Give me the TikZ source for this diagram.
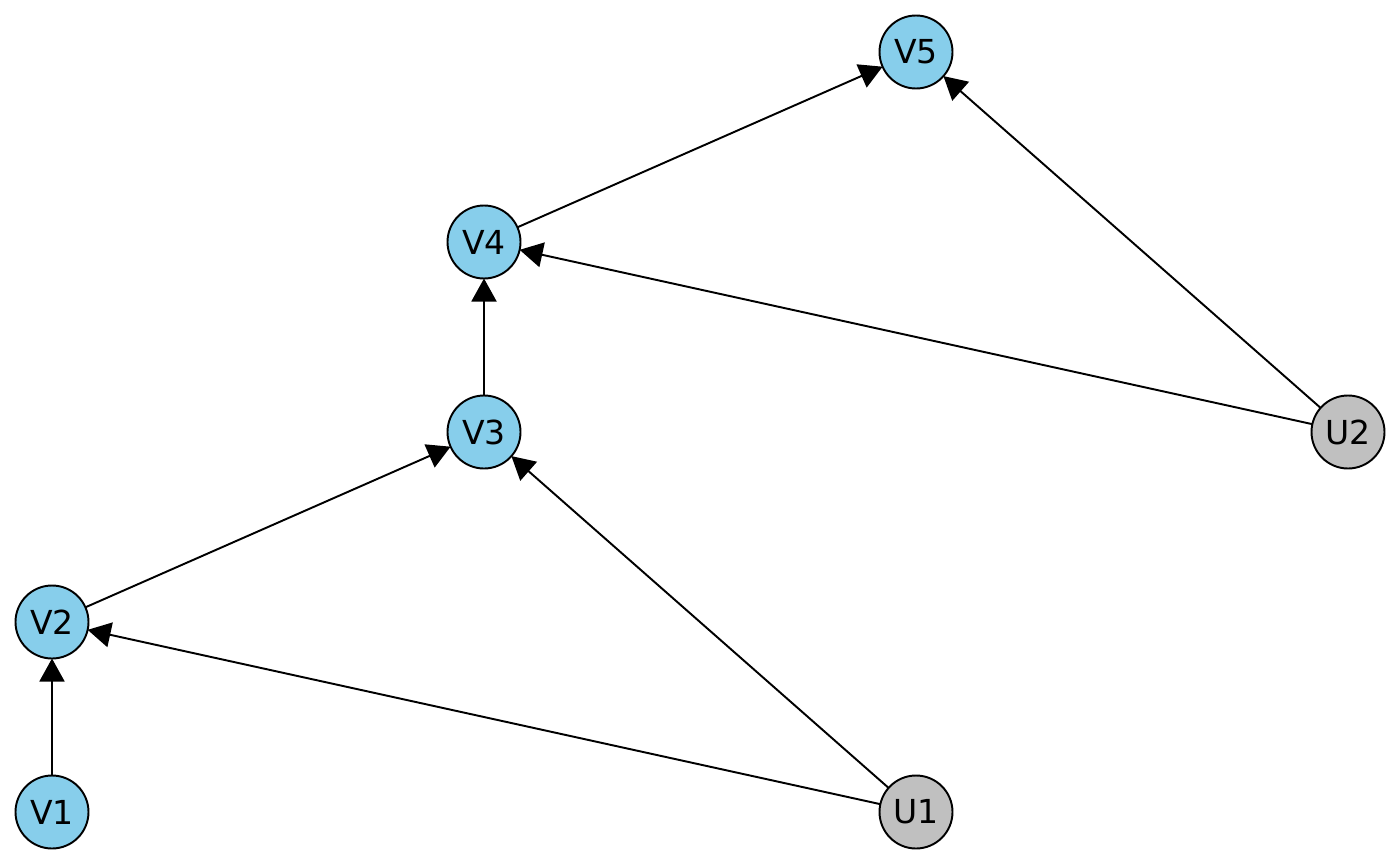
\documentclass[tikz,border=0pt]{standalone}
\usepackage{fontspec}
\setmainfont{DejaVu Sans}
\usetikzlibrary{arrows.meta}
\begin{document}
\begin{tikzpicture}
	[obs/.style={circle,draw,line width=0.55pt,fill=obscol,minimum size=0.73cm,inner sep=0pt,outer sep=0pt,font=\fontsize{9.4}{11}\selectfont},
	 lat/.style={obs,fill=latcol},
	 >={Triangle[length=0.23cm,width=0.25cm]}]
    \definecolor{obscol}{HTML}{87CEEB}
    \definecolor{latcol}{HTML}{C0C0C0}
    \useasboundingbox (0,0) rectangle (14,8.65);
    \node[obs] (V1) at (0.52,0.53) {V1};
    \node[obs] (V2) at (0.52,2.43) {V2};
    \node[obs] (V3) at (4.84,4.33) {V3};
    \node[obs] (V4) at (4.84,6.23) {V4};
    \node[obs] (V5) at (9.16,8.13) {V5};
    \node[lat] (U1) at (9.16,0.53) {U1};
    \node[lat] (U2) at (13.48,4.33) {U2};
    \draw [line width=0.55pt,->] (V1) -- (V2);
    \draw [line width=0.55pt,->] (V2) -- (V3);
    \draw [line width=0.55pt,->] (V3) -- (V4);
    \draw [line width=0.55pt,->] (V4) -- (V5);
    \draw [line width=0.55pt,->] (U1) -- (V2);
    \draw [line width=0.55pt,->] (U1) -- (V3);
    \draw [line width=0.55pt,->] (U2) -- (V4);
    \draw [line width=0.55pt,->] (U2) -- (V5);
\end{tikzpicture}
\end{document}
